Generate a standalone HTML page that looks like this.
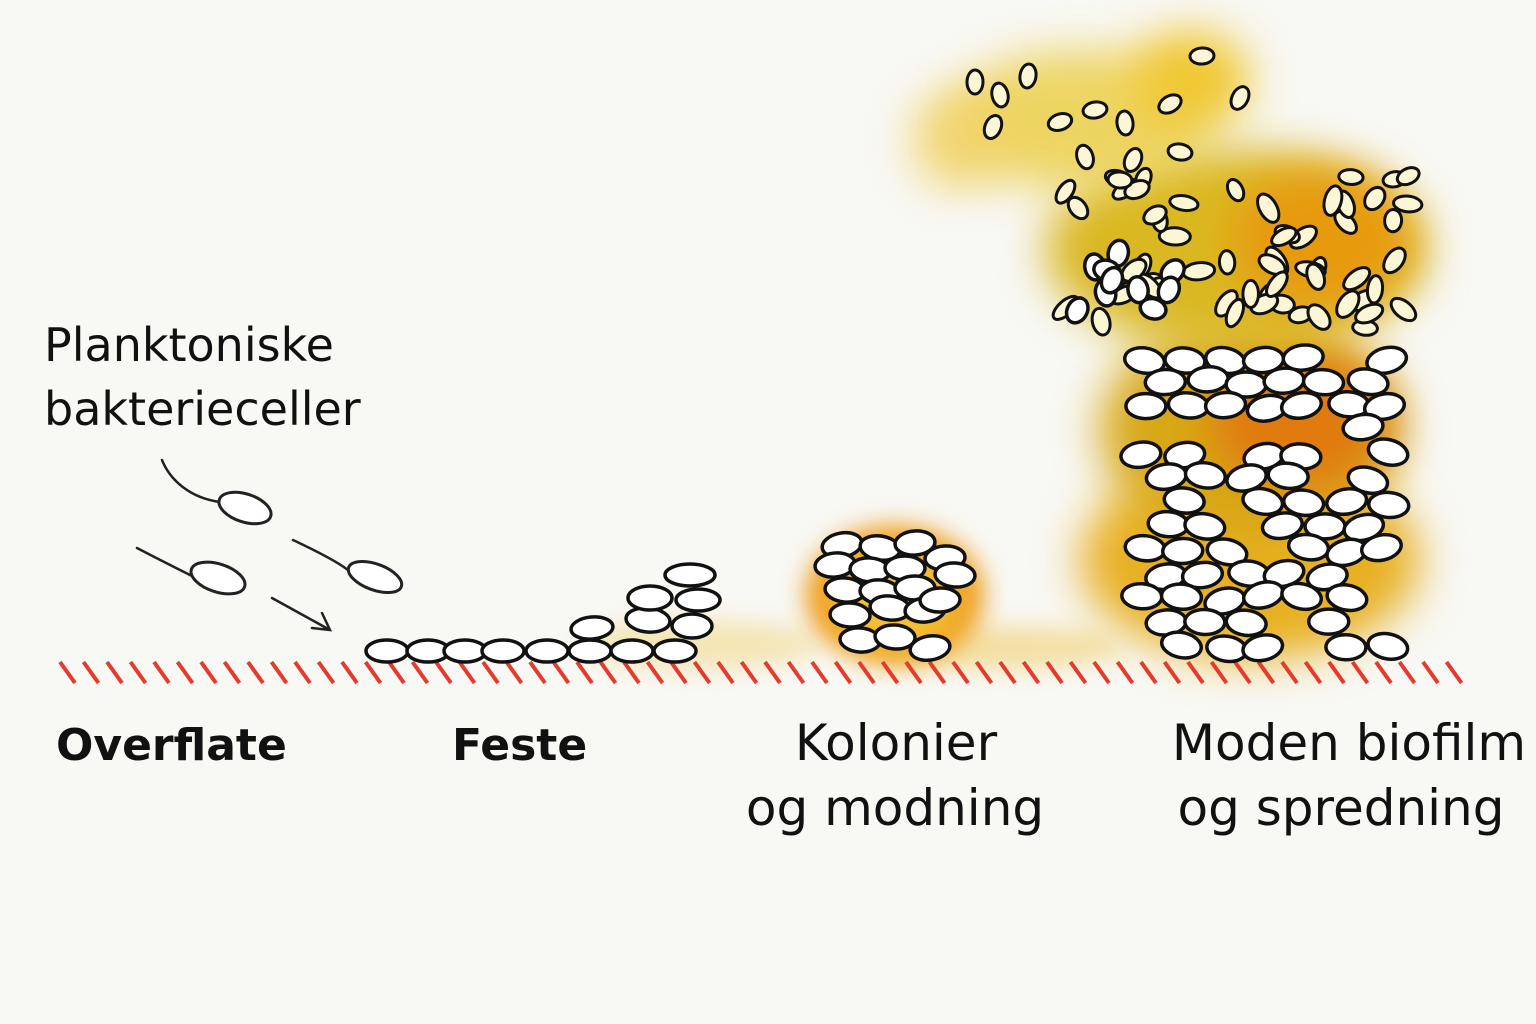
<!DOCTYPE html>
<html><head><meta charset="utf-8"><style>
html,body{margin:0;padding:0;background:#f8f8f5;}
svg{display:block}
text{font-family:"DejaVu Sans","Liberation Sans",sans-serif;fill:#111}
</style></head><body>
<svg id="s" width="1536" height="1024" viewBox="0 0 1536 1024" xmlns="http://www.w3.org/2000/svg">
<defs>
<filter id="b30" x="-50%" y="-50%" width="200%" height="200%"><feGaussianBlur stdDeviation="22"/></filter>
<filter id="b12" x="-50%" y="-50%" width="200%" height="200%"><feGaussianBlur stdDeviation="12"/></filter>
</defs>
<rect width="1536" height="1024" fill="#f8f8f5"/>
<g id="glow">
<ellipse cx="700" cy="645" rx="120" ry="25" fill="#f3d98a" filter="url(#b12)" opacity=".6"/>
<ellipse cx="1000" cy="648" rx="120" ry="22" fill="#f1cf6a" filter="url(#b12)" opacity=".6"/>
<ellipse cx="895" cy="595" rx="90" ry="70" fill="#f0a020" filter="url(#b12)"/>
<ellipse cx="895" cy="600" rx="60" ry="50" fill="#f4c030" filter="url(#b12)"/>
<ellipse cx="1250" cy="560" rx="170" ry="100" fill="#e8b020" filter="url(#b30)"/>
<ellipse cx="1250" cy="430" rx="150" ry="110" fill="#d8a818" filter="url(#b30)"/>
<ellipse cx="1300" cy="420" rx="90" ry="70" fill="#e07a10" filter="url(#b30)"/>
<ellipse cx="1235" cy="250" rx="190" ry="100" fill="#dab820" filter="url(#b30)"/>
<ellipse cx="1320" cy="240" rx="90" ry="70" fill="#e89a10" filter="url(#b30)"/>
<ellipse cx="1080" cy="120" rx="130" ry="70" fill="#eccf48" filter="url(#b30)" opacity=".85"/>
<ellipse cx="1190" cy="80" rx="60" ry="50" fill="#f0c830" filter="url(#b30)"/>
<ellipse cx="960" cy="140" rx="50" ry="50" fill="#f2d060" filter="url(#b30)" opacity=".8"/>
</g>
<g id="hatch" stroke="#e53a2e" stroke-width="4"></g>
<g id="cells" fill="#fff" stroke="#111" stroke-width="3.5"></g>
<g fill="none" stroke="#222" stroke-width="2.5" stroke-linecap="round">
<path d="M162 460 C170 480,190 498,220 502"/>
<path d="M137 548 C160 560,180 570,192 576"/>
<path d="M293 540 C310 548,335 560,348 570"/>
<path d="M272 598 L330 630 M312 628 L330 630 L322 613"/>
</g>
<g fill="#fff" stroke="#222" stroke-width="3">
<ellipse cx="245" cy="508" rx="27" ry="14" transform="rotate(18 245 508)"/>
<ellipse cx="218" cy="578" rx="28" ry="14" transform="rotate(18 218 578)"/>
<ellipse cx="375" cy="577" rx="28" ry="13" transform="rotate(20 375 577)"/>
</g>
<text x="44" y="361" font-size="46">Planktoniske</text>
<text x="44" y="425" font-size="46">bakterieceller</text>
<text x="56" y="760" font-size="44" font-weight="bold">Overflate</text>
<text x="452" y="760" font-size="44" font-weight="bold">Feste</text>
<text x="896" y="760" font-size="50" text-anchor="middle">Kolonier</text>
<text x="895" y="825" font-size="50" text-anchor="middle">og modning</text>
<text x="1349" y="760" font-size="50" text-anchor="middle">Moden biofilm</text>
<text x="1341" y="825" font-size="50" text-anchor="middle">og spredning</text>
</svg>
<script>
var NS="http://www.w3.org/2000/svg";
var h=document.getElementById('hatch');
for(var x=60;x<1460;x+=23.5){var l=document.createElementNS(NS,'line');l.setAttribute('x1',x);l.setAttribute('y1',662);l.setAttribute('x2',x+15);l.setAttribute('y2',683);h.appendChild(l);}
var c=document.getElementById('cells');
function E(x,y,rx,ry,r,f,sw){var e=document.createElementNS(NS,'ellipse');e.setAttribute('cx',x);e.setAttribute('cy',y);e.setAttribute('rx',rx);e.setAttribute('ry',ry);e.setAttribute('transform','rotate('+r+' '+x+' '+y+')');if(f)e.setAttribute('fill',f);if(sw)e.setAttribute('stroke-width',sw);c.appendChild(e);}
var seed=7;function R(){seed=(seed*16807)%2147483647;return seed/2147483647;}
[387,428,465,503,547,590,632,675].forEach(function(x){E(x,651,21,11,0);});
E(592,628,21,11,-5);E(648,620,22,12,5);E(692,626,20,12,0);E(650,598,22,12,0);E(698,600,22,11,0);E(690,575,25,11,0);
var kc=[[842,545],[880,548],[915,543],[835,565],[870,570],[905,568],[945,558],[845,590],[880,592],[915,588],[955,575],[850,615],[890,608],[925,610],[940,600],[860,640],[895,637],[930,648]];
kc.forEach(function(p){E(p[0],p[1],20,12,R()*20-10);});
for(var y=355;y<645;y+=24){for(var x=1125+((y/24)%2)*20;x<1385;x+=40){if(R()<0.88){E(x+R()*8,y+R()*6,20,12.5,R()*30-15);}}}
for(var i=0;i<55;i++){var x=1065+R()*345,y=170+R()*165;E(x,y,11+R()*5,7+R()*2,R()*180,'#fbf6d6',3);}
for(var i=0;i<10;i++){var x=1075+R()*100,y=250+R()*70;E(x,y,13,10,R()*180);}
var dp=[[975,82],[1028,76],[1000,95],[993,127],[1060,122],[1095,110],[1125,123],[1170,104],[1202,56],[1240,98],[1085,157],[1133,160],[1180,152],[1078,208],[1120,180],[1155,215]];
dp.forEach(function(p){E(p[0],p[1],12,8,R()*180,'#fbf6d6',3);});
</script>
</body></html>
